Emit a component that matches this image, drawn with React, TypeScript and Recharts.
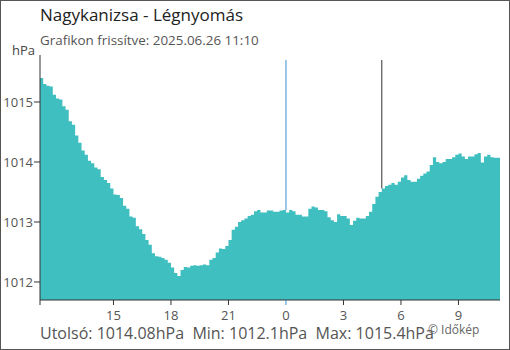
import React from 'react';
import { AreaChart, Area, XAxis, YAxis, ReferenceLine } from 'recharts';

// 10-minute samples, 2025.06.25 11:10 -> 2025.06.26 11:10
const pressure = [
  1015.40, 1015.30, 1015.27, 1015.26, 1015.12, 1015.06, 1015.04, 1014.93, 1014.87, 1014.68,
  1014.62, 1014.44, 1014.32, 1014.19, 1014.12, 1014.02, 1013.98, 1013.91, 1013.88, 1013.75,
  1013.70, 1013.65, 1013.56, 1013.46, 1013.45, 1013.40, 1013.27, 1013.22, 1013.09, 1013.07,
  1012.93, 1012.88, 1012.80, 1012.70, 1012.62, 1012.48, 1012.43, 1012.42, 1012.40, 1012.37,
  1012.32, 1012.24, 1012.15, 1012.10, 1012.20, 1012.25, 1012.24, 1012.27, 1012.28, 1012.27,
  1012.28, 1012.29, 1012.28, 1012.37, 1012.40, 1012.49, 1012.56, 1012.55, 1012.60, 1012.70,
  1012.87, 1012.92, 1013.00, 1013.03, 1013.06, 1013.10, 1013.12, 1013.18, 1013.20, 1013.16,
  1013.16, 1013.19, 1013.19, 1013.17, 1013.17, 1013.19, 1013.20, 1013.16, 1013.20, 1013.18,
  1013.12, 1013.12, 1013.09, 1013.09, 1013.22, 1013.26, 1013.24, 1013.20, 1013.20, 1013.18,
  1013.08, 1013.03, 1013.00, 1013.13, 1013.10, 1013.10, 1013.06, 1012.95, 1013.02, 1013.07,
  1013.06, 1013.06, 1013.10, 1013.17, 1013.30, 1013.42, 1013.50, 1013.56, 1013.60, 1013.62,
  1013.65, 1013.62, 1013.67, 1013.74, 1013.78, 1013.70, 1013.67, 1013.67, 1013.72, 1013.77,
  1013.81, 1013.84, 1013.95, 1014.08, 1014.00, 1013.98, 1014.00, 1014.05, 1014.05, 1014.08,
  1014.12, 1014.14, 1014.09, 1014.05, 1014.09, 1014.09, 1014.13, 1014.15, 1013.99, 1014.09,
  1014.12, 1014.08, 1014.07, 1014.07, 1014.08,
];

const tickIndex = [0, 23, 41, 59, 77, 95, 113, 131];
const tickLabels = ['', '15', '18', '21', '0', '3', '6', '9'];
const yTicks = [1012, 1013, 1014, 1015];
const midnightIndex = 77;
const sunriseIndex = 107;

const data = pressure.map((p, i) => ({ i, p }));

const font = '"Open Sans", "Noto Sans", sans-serif';
const fillColor = '#40bfc1';
const blue = '#3a8ccd';
const axisColor = '#333';
const textColor = '#555';
const plotTop = 1015.7;

// marker lines stop where the filled area begins
const lineBase = (idx: number) => Math.max(pressure[idx - 1], pressure[idx]);

const XTick = (props: any) => {
  const { x, y, payload } = props;
  const idx = tickIndex.indexOf(payload.value);
  const isMidnight = payload.value === midnightIndex;
  return (
    <g>
      <line x1={x} y1={y} x2={x} y2={y + 5} stroke={isMidnight ? blue : axisColor} />
      <text x={x} y={y + 20} textAnchor="middle" fill={textColor} fontSize={13} fontFamily={font}>
        {tickLabels[idx]}
      </text>
    </g>
  );
};

export default function App() {
  return (
    <div style={{ position: 'absolute', left: 0, top: 0, width: 510, height: 350, background: '#fff', fontFamily: font }}>
      <AreaChart width={510} height={350} data={data} margin={{ top: 55, right: 10, bottom: 0, left: 0 }}>
        <XAxis
          type="number"
          dataKey="i"
          domain={[0, 144]}
          ticks={tickIndex}
          tick={<XTick />}
          tickLine={false}
          tickSize={0}
          tickMargin={0}
          height={50}
          axisLine={{ stroke: axisColor }}
          interval={0}
        />
        <YAxis
          domain={[1011.7, 1015.7833]}
          allowDataOverflow
          ticks={yTicks}
          width={40}
          tick={{ fill: textColor, fontSize: 13, fontFamily: font }}
          tickLine={{ stroke: axisColor }}
          tickSize={6}
          tickMargin={1}
          axisLine={{ stroke: axisColor }}
        />
        <Area
          type="stepAfter"
          dataKey="p"
          stroke="none"
          fill={fillColor}
          fillOpacity={1}
          isAnimationActive={false}
        />
        <ReferenceLine
          segment={[{ x: midnightIndex, y: lineBase(midnightIndex) }, { x: midnightIndex, y: plotTop }]}
          stroke={blue}
          strokeWidth={1}
        />
        <ReferenceLine
          segment={[{ x: sunriseIndex, y: lineBase(sunriseIndex) }, { x: sunriseIndex, y: plotTop }]}
          stroke={axisColor}
          strokeWidth={1}
        />
      </AreaChart>
      <div style={{ position: 'absolute', left: 40, top: 5, fontSize: 17, lineHeight: '20px', color: '#222', whiteSpace: 'nowrap' }}>
        Nagykanizsa - Légnyomás
      </div>
      <div style={{ position: 'absolute', left: 40, top: 32, fontSize: 13.4, lineHeight: '16px', color: textColor, whiteSpace: 'nowrap' }}>
        Grafikon frissítve: 2025.06.26 11:10
      </div>
      <div style={{ position: 'absolute', left: 12, top: 42, fontSize: 13, lineHeight: '16px', color: '#444' }}>hPa</div>
      <div style={{ position: 'absolute', left: 40, top: 325, fontSize: 16, lineHeight: '16px', color: textColor, whiteSpace: 'pre' }}>
        {'Utolsó: 1014.08hPa  Min: 1012.1hPa  Max: 1015.4hPa'}
      </div>
      <div style={{ position: 'absolute', left: 428, top: 324, fontSize: 12, lineHeight: '12px', color: '#666', whiteSpace: 'nowrap' }}>
        © Időkép
      </div>
      <div style={{ position: 'absolute', left: 0, top: 0, width: 510, height: 350, boxSizing: 'border-box', border: '1px solid #555', pointerEvents: 'none' }} />
    </div>
  );
}
